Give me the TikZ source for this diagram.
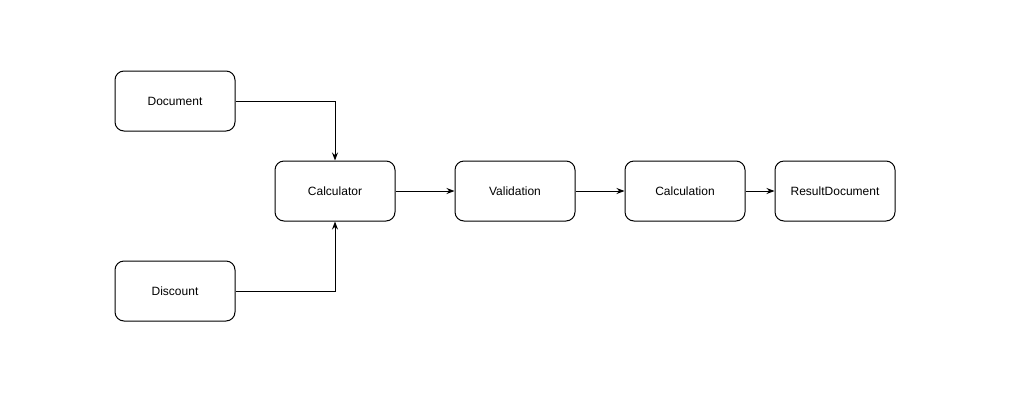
\documentclass[tikz,border=0pt]{standalone}
\usepackage{fontspec}
\setmainfont{Liberation Sans}
\usetikzlibrary{arrows.meta,positioning}

\begin{document}
\begin{tikzpicture}[x=1pt,y=-1pt,
  stage/.style={draw, line width=1pt, rounded corners=9pt, minimum width=120pt, minimum height=60pt, font=\fontsize{12}{14}\selectfont},
  link/.style={draw, line width=1pt, -{Stealth[length=8pt,width=6pt]}}]
\useasboundingbox (0,0) rectangle (1011,405);

\node at (175,101) [stage] (document) {Document};
\node at (175,291) [stage] (discount) {Discount};

\node at (335,191) [stage] (calculator) {Calculator};
\node at (515,191) [stage] (validation) {Validation};
\node at (685,191) [stage] (calculation) {Calculation};
\node at (835,191) [stage] (result) {ResultDocument};

\draw [link] (document.east) -| (calculator.north);
\draw [link] (discount.east) -| (calculator.south);

\draw [link] (calculator) -- (validation);
\draw [link] (validation) -- (calculation);
\draw [link] (calculation) -- (result);
\end{tikzpicture}
\end{document}
